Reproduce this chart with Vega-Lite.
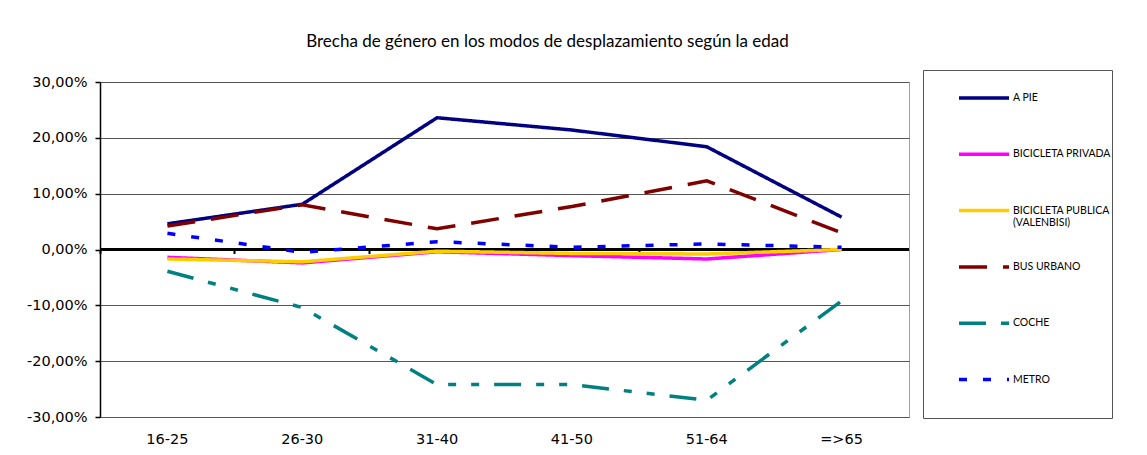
{
  "$schema": "https://vega.github.io/schema/vega-lite/v6.json",
  "width": 809,
  "height": 335,
  "autosize": {"type": "none"},
  "padding": {"left": 100, "top": 82, "right": 238, "bottom": 38},
  "background": "white",
  "title": {
    "text": "Brecha de género en los modos de desplazamiento según la edad",
    "font": "Lato", "fontSize": 17, "fontWeight": "normal", "color": "black",
    "anchor": "middle", "dx": 43, "offset": 6, "baseline": "alphabetic"
  },
  "data": {"values": [
    {"edad": "16-25", "modo": "A PIE", "valor": 0.046},
    {"edad": "26-30", "modo": "A PIE", "valor": 0.081},
    {"edad": "31-40", "modo": "A PIE", "valor": 0.236},
    {"edad": "41-50", "modo": "A PIE", "valor": 0.214},
    {"edad": "51-64", "modo": "A PIE", "valor": 0.184},
    {"edad": "=>65", "modo": "A PIE", "valor": 0.058},
    {"edad": "16-25", "modo": "BICICLETA PRIVADA", "valor": -0.014},
    {"edad": "26-30", "modo": "BICICLETA PRIVADA", "valor": -0.024},
    {"edad": "31-40", "modo": "BICICLETA PRIVADA", "valor": -0.004},
    {"edad": "41-50", "modo": "BICICLETA PRIVADA", "valor": -0.011},
    {"edad": "51-64", "modo": "BICICLETA PRIVADA", "valor": -0.017},
    {"edad": "=>65", "modo": "BICICLETA PRIVADA", "valor": 0.0},
    {"edad": "16-25", "modo": "BICICLETA PUBLICA (VALENBISI)", "valor": -0.017},
    {"edad": "26-30", "modo": "BICICLETA PUBLICA (VALENBISI)", "valor": -0.022},
    {"edad": "31-40", "modo": "BICICLETA PUBLICA (VALENBISI)", "valor": -0.003},
    {"edad": "41-50", "modo": "BICICLETA PUBLICA (VALENBISI)", "valor": -0.007},
    {"edad": "51-64", "modo": "BICICLETA PUBLICA (VALENBISI)", "valor": -0.008},
    {"edad": "=>65", "modo": "BICICLETA PUBLICA (VALENBISI)", "valor": 0.0},
    {"edad": "16-25", "modo": "BUS URBANO", "valor": 0.042},
    {"edad": "26-30", "modo": "BUS URBANO", "valor": 0.080},
    {"edad": "31-40", "modo": "BUS URBANO", "valor": 0.037},
    {"edad": "41-50", "modo": "BUS URBANO", "valor": 0.077},
    {"edad": "51-64", "modo": "BUS URBANO", "valor": 0.123},
    {"edad": "=>65", "modo": "BUS URBANO", "valor": 0.030},
    {"edad": "16-25", "modo": "COCHE", "valor": -0.039},
    {"edad": "26-30", "modo": "COCHE", "valor": -0.104},
    {"edad": "31-40", "modo": "COCHE", "valor": -0.242},
    {"edad": "41-50", "modo": "COCHE", "valor": -0.242},
    {"edad": "51-64", "modo": "COCHE", "valor": -0.270},
    {"edad": "=>65", "modo": "COCHE", "valor": -0.092},
    {"edad": "16-25", "modo": "METRO", "valor": 0.029},
    {"edad": "26-30", "modo": "METRO", "valor": -0.005},
    {"edad": "31-40", "modo": "METRO", "valor": 0.014},
    {"edad": "41-50", "modo": "METRO", "valor": 0.004},
    {"edad": "51-64", "modo": "METRO", "valor": 0.010},
    {"edad": "=>65", "modo": "METRO", "valor": 0.004}
  ]},
  "layer": [
    {
      "mark": {"type": "point", "opacity": 0},
      "encoding": {
        "x": {
          "field": "edad", "type": "ordinal",
          "sort": ["16-25", "26-30", "31-40", "41-50", "51-64", "=>65"],
          "scale": {"type": "band", "paddingInner": 0, "paddingOuter": 0},
          "axis": {"orient": "bottom", "title": null, "labels": false, "domain": false, "ticks": true, "tickColor": "black", "tickWidth": 2, "tickSize": 4, "bandPosition": 0, "offset": -167.5, "grid": false}
        },
        "y": {
          "field": "valor", "type": "quantitative",
          "scale": {"domain": [-0.3, 0.3], "nice": false, "zero": false},
          "axis": {
            "title": null, "values": [-0.3, -0.2, -0.1, 0, 0.1, 0.2, 0.3],
            "labelExpr": "replace(replace(format(datum.value, '.2%'), '.', ','), '\u2212', '-')",
            "grid": true, "gridColor": "#555555", "gridWidth": 1,
            "domainColor": "black", "domainWidth": 1.5,
            "tickColor": "black", "tickSize": 5, "tickWidth": 1.5,
            "labelPadding": 8, "labelFont": "DejaVu Sans", "labelFontSize": 14.5, "labelColor": "black"
          }
        }
      }
    },
    {
      "mark": {"type": "rule", "color": "black", "strokeWidth": 2},
      "encoding": {"y": {"datum": 0, "type": "quantitative"}}
    },
    {
      "mark": {"type": "line", "strokeWidth": 3.5},
      "encoding": {
        "x": {
          "field": "edad", "type": "ordinal",
          "sort": ["16-25", "26-30", "31-40", "41-50", "51-64", "=>65"],
          "bandPosition": 0.5,
          "scale": {"type": "band", "paddingInner": 0, "paddingOuter": 0},
          "axis": {"orient": "bottom", "title": null, "domain": false, "ticks": false, "labelFont": "DejaVu Sans", "labelFontSize": 14.5, "labelColor": "black", "labelPadding": 15, "labelAngle": 0, "grid": false, "bandPosition": 0.5}
        },
        "y": {"field": "valor", "type": "quantitative"},
        "color": {
          "field": "modo", "type": "nominal",
          "scale": {
            "domain": ["A PIE", "BICICLETA PRIVADA", "BICICLETA PUBLICA (VALENBISI)", "BUS URBANO", "COCHE", "METRO"],
            "range": ["#000080", "#FF00FF", "#FFCC00", "#800000", "#008080", "#0000FF"]
          },
          "legend": {
            "title": " ",
            "labelExpr": "datum.label == 'BICICLETA PUBLICA (VALENBISI)' ? ['BICICLETA PUBLICA', '(VALENBISI)'] : datum.label"
          }
        },
        "strokeDash": {
          "field": "modo", "type": "nominal",
          "scale": {
            "domain": ["A PIE", "BICICLETA PRIVADA", "BICICLETA PUBLICA (VALENBISI)", "BUS URBANO", "COCHE", "METRO"],
            "range": [[1, 0], [1, 0], [1, 0], [28, 16], [27, 15, 8, 15, 8, 15], [8, 16]]
          },
          "legend": {
            "title": " ",
            "labelExpr": "datum.label == 'BICICLETA PUBLICA (VALENBISI)' ? ['BICICLETA PUBLICA', '(VALENBISI)'] : datum.label"
          }
        }
      }
    }
  ],
  "resolve": {"axis": {"x": "independent"}},
  "config": {
    "view": {"stroke": "#a0a0a0", "strokeWidth": 1},
    "legend": {
      "orient": "none", "legendX": 823, "legendY": -12,
      "strokeColor": "#555555", "padding": 1,
      "symbolType": "stroke", "symbolSize": 2500, "symbolStrokeWidth": 3.5, "symbolOffset": 33,
      "labelOffset": 2, "labelFont": "Lato", "labelFontSize": 10.5, "labelColor": "black", "labelLimit": 300,
      "gridAlign": "all", "rowPadding": 11.3,
      "titleOrient": "bottom", "titleFontSize": 10, "titlePadding": 19.5
    }
  }
}
